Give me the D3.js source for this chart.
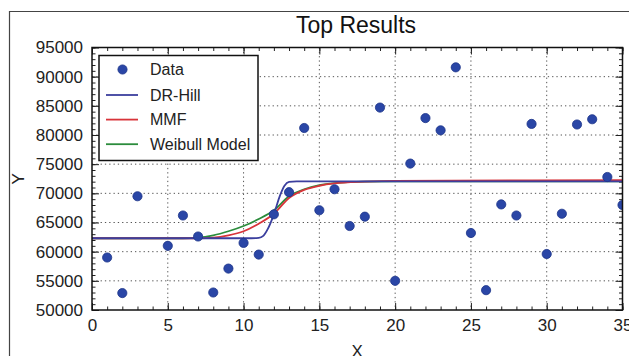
<!DOCTYPE html>
<html>
<head>
<meta charset="utf-8">
<script src="https://cdn.jsdelivr.net/npm/d3@7"></script>
<style>
  body { margin: 0; background: #fff; }
  svg { display: block; font-family: "Liberation Sans", Arial, sans-serif; }
</style>
</head>
<body>
<svg id="chart"></svg>
<script>
// observed data
const dataX = [1, 2, 3, 5, 6, 7, 8, 9, 10, 11, 12, 13, 14, 15, 16, 17, 18, 19, 20, 21, 22, 23, 24, 25, 26, 27, 28, 29, 30, 31, 32, 33, 34, 35];
const dataY = [59000, 52900, 69500, 61000, 66200, 62600, 53000, 57100, 61500, 59500, 66400, 70200, 81200, 67100, 70700, 64400, 66000, 84700, 55000, 75100, 82900, 80800, 91600, 63200, 53400, 68100, 66200, 81900, 59600, 66500, 81800, 82700, 72800, 68000];

// fitted curves
const hillX = [0, 10.5, 11, 11.3, 11.6, 12, 12.4, 12.7, 13, 13.5, 35];
const hillY = [62300, 62300, 62350, 62700, 63900, 66400, 69600, 71300, 71950, 72050, 72050];
const mmfX = [0, 7, 8, 9, 10, 11, 12, 13, 14, 15, 16, 18, 20, 35];
const mmfY = [62300, 62300, 62400, 62800, 63500, 64800, 66500, 69200, 70600, 71300, 71700, 72000, 72150, 72250];
const weibullX = [0, 6, 7, 8, 9, 10, 11, 12, 13, 14, 15, 16, 18, 20, 35];
const weibullY = [62300, 62300, 62400, 62800, 63500, 64400, 65600, 67100, 69500, 70700, 71400, 71750, 72000, 72050, 72050];

const xTicks = [0, 5, 10, 15, 20, 25, 30, 35];
const yTicks = [50000, 55000, 60000, 65000, 70000, 75000, 80000, 85000, 90000, 95000];

const width = 629, height = 356;
const margin = { top: 47.5, right: 6.5, bottom: 46, left: 92 };
const w = width - margin.left - margin.right;
const h = height - margin.top - margin.bottom;

const svg = d3.select('#chart').attr('width', width).attr('height', height);

// figure frame
svg.append('path')
    .attr('d', `M9.5,${height} V11.5 H${width}`)
    .attr('fill', 'none')
    .attr('stroke', '#444')
    .attr('stroke-width', 1.2);

svg.append('text')
    .attr('x', 356)
    .attr('y', 33)
    .attr('text-anchor', 'middle')
    .attr('font-size', 23)
    .attr('fill', '#111')
    .text('Top Results');

const x = d3.scaleLinear().domain([0, 35]).range([0, w]);
const y = d3.scaleLinear().domain([50000, 95000]).range([h, 0]);

const g = svg.append('g').attr('transform', `translate(${margin.left},${margin.top})`);

g.append('clipPath').attr('id', 'clip')
    .append('rect').attr('width', w).attr('height', h);

// dotted grid
g.selectAll('.vgrid').data(xTicks.slice(1, -1)).enter()
    .append('line')
    .attr('x1', (d) => x(d)).attr('x2', (d) => x(d))
    .attr('y1', 0).attr('y2', h)
    .attr('stroke', '#555').attr('stroke-width', 1)
    .attr('stroke-dasharray', '1.3,3');
g.selectAll('.hgrid').data(yTicks.slice(1, -1)).enter()
    .append('line')
    .attr('x1', 0).attr('x2', w)
    .attr('y1', (d) => y(d)).attr('y2', (d) => y(d))
    .attr('stroke', '#555').attr('stroke-width', 1)
    .attr('stroke-dasharray', '1.3,3');

// ticks pointing inward on all sides
const addAxis = (axis, tr, labels) => {
    const a = g.append('g').attr('transform', tr).call(axis);
    a.select('.domain').remove();
    a.selectAll('line').attr('stroke', '#222');
    if (!labels) a.selectAll('text').remove();
    return a;
};
const minorX = d3.range(0, 36, 1);
const minorY = d3.range(50000, 95001, 1000);

addAxis(d3.axisBottom(x).tickValues(minorX).tickSize(-3.5).tickFormat(''), `translate(0,${h})`);
addAxis(d3.axisTop(x).tickValues(minorX).tickSize(-3.5).tickFormat(''), 'translate(0,0)');
addAxis(d3.axisLeft(y).tickValues(minorY).tickSize(-3.5).tickFormat(''), 'translate(0,0)');
addAxis(d3.axisRight(y).tickValues(minorY).tickSize(-3.5).tickFormat(''), `translate(${w},0)`);
addAxis(d3.axisTop(x).tickValues(xTicks).tickSize(-7).tickFormat(''), 'translate(0,0)');
addAxis(d3.axisRight(y).tickValues(yTicks).tickSize(-7).tickFormat(''), `translate(${w},0)`);

const xAxis = addAxis(d3.axisBottom(x).tickValues(xTicks).tickSize(-7).tickPadding(9), `translate(0,${h})`, true);
xAxis.selectAll('text').attr('font-size', 17).attr('fill', '#222')
    .attr('font-family', '"Liberation Sans", Arial, sans-serif');
const yAxis = addAxis(d3.axisLeft(y).tickValues(yTicks).tickSize(-7).tickPadding(9).tickFormat(d3.format('d')), 'translate(0,0)', true);
yAxis.selectAll('text').attr('font-size', 17).attr('fill', '#222')
    .attr('font-family', '"Liberation Sans", Arial, sans-serif');

// curves
const curveLine = d3.line()
    .x((d) => x(d[0]))
    .y((d) => y(d[1]))
    .curve(d3.curveMonotoneX);

const series = [
    { name: 'DR-Hill', xs: hillX, ys: hillY, color: '#3b3f9e' },
    { name: 'MMF', xs: mmfX, ys: mmfY, color: '#d8343a' },
    { name: 'Weibull Model', xs: weibullX, ys: weibullY, color: '#2b8c3c' }
];

const plot = g.append('g').attr('clip-path', 'url(#clip)');

[series[2], series[1], series[0]].forEach((s) => {
    plot.append('path')
        .datum(s.xs.map((v, i) => [v, s.ys[i]]))
        .attr('d', curveLine)
        .attr('fill', 'none')
        .attr('stroke', s.color)
        .attr('stroke-width', 1.8);
});

plot.selectAll('.dot').data(dataX.map((v, i) => [v, dataY[i]])).enter()
    .append('circle')
    .attr('cx', (d) => x(d[0]))
    .attr('cy', (d) => y(d[1]))
    .attr('r', 4.6)
    .attr('fill', '#2a46a6')
    .attr('stroke', '#1c3389')
    .attr('stroke-width', 0.8);

// plot frame
g.append('rect')
    .attr('width', w).attr('height', h)
    .attr('fill', 'none')
    .attr('stroke', '#111')
    .attr('stroke-width', 1.5);

// legend
const legend = g.append('g').attr('transform', 'translate(7,8)');
legend.append('rect')
    .attr('width', 159).attr('height', 105)
    .attr('fill', '#fff')
    .attr('stroke', '#111')
    .attr('stroke-width', 1.5);

legend.append('circle')
    .attr('cx', 23.5).attr('cy', 14)
    .attr('r', 4.6)
    .attr('fill', '#2a46a6')
    .attr('stroke', '#1c3389')
    .attr('stroke-width', 0.8);
legend.append('text')
    .attr('x', 51).attr('y', 19.5)
    .attr('font-size', 16).attr('fill', '#222')
    .text('Data');

series.forEach((s, i) => {
    const ly = 39.5 + i * 24.6;
    legend.append('line')
        .attr('x1', 7).attr('x2', 39)
        .attr('y1', ly).attr('y2', ly)
        .attr('stroke', s.color)
        .attr('stroke-width', 1.8);
    legend.append('text')
        .attr('x', 51).attr('y', ly + 5.5)
        .attr('font-size', 16).attr('fill', '#222')
        .text(s.name);
});

// axis titles
svg.append('text')
    .attr('x', margin.left + w / 2)
    .attr('y', 357)
    .attr('text-anchor', 'middle')
    .attr('font-size', 17)
    .attr('fill', '#222')
    .text('X');

svg.append('text')
    .attr('transform', `translate(24,${margin.top + h / 2}) rotate(-90)`)
    .attr('text-anchor', 'middle')
    .attr('font-size', 17)
    .attr('fill', '#222')
    .text('Y');
</script>
</body>
</html>
